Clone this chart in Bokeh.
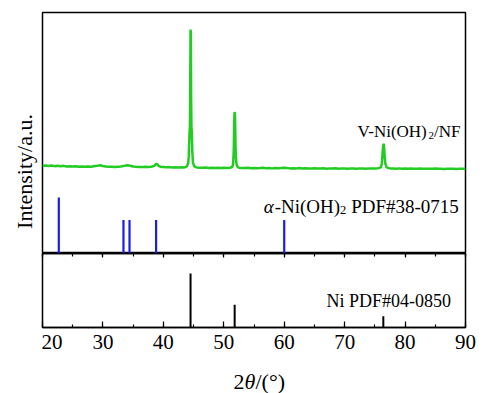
from bokeh.plotting import figure
from bokeh.layouts import column, row
from bokeh.models import Range1d, LinearAxis, Label, SingleIntervalTicker, CustomJSTickFormatter
from bokeh.embed import file_html
from bokeh.resources import INLINE

# ---- data ----
two_theta = [20.0, 20.5, 21.0, 21.5, 22.0, 22.5, 23.0, 23.5, 24.0, 24.5, 25.0, 25.5, 26.0, 26.5,
             27.0, 27.5, 28.0, 28.5, 29.0, 29.5, 30.0, 30.5, 31.0, 31.5, 32.0, 32.5, 33.0, 33.5,
             34.0, 34.5, 35.0, 35.5, 36.0, 36.5, 37.0, 37.5, 38.0, 38.5, 38.8, 39.0, 39.2, 39.5,
             40.0, 40.5, 41.0, 41.5, 42.0, 42.5, 43.0, 43.5, 43.9, 44.1, 44.2, 44.3, 44.35, 44.4,
             44.45, 44.5, 44.55, 44.6, 44.65, 44.7, 44.8, 44.9, 45.1, 45.5, 46.0, 46.5, 47.0, 47.5,
             48.0, 48.5, 49.0, 49.5, 50.0, 50.5, 51.0, 51.4, 51.55, 51.65, 51.7, 51.75, 51.8, 51.85,
             51.9, 51.95, 52.0, 52.1, 52.25, 52.5, 53.0, 53.5, 54.0, 54.5, 55.0, 55.5, 56.0, 56.5,
             57.0, 57.5, 58.0, 58.5, 59.0, 59.5, 60.0, 60.5, 61.0, 61.5, 62.0, 62.5, 63.0, 63.5,
             64.0, 64.5, 65.0, 65.5, 66.0, 66.5, 67.0, 67.5, 68.0, 68.5, 69.0, 69.5, 70.0, 70.5,
             71.0, 71.5, 72.0, 72.5, 73.0, 73.5, 74.0, 74.5, 75.0, 75.5, 76.0, 76.15, 76.25, 76.35,
             76.45, 76.55, 76.65, 76.75, 76.9, 77.2, 77.5, 78.0, 78.5, 79.0, 79.5, 80.0, 80.5, 81.0,
             81.5, 82.0, 82.5, 83.0, 83.5, 84.0, 84.5, 85.0, 85.5, 86.0, 86.5, 87.0, 87.5, 88.0,
             88.5, 89.0, 89.5, 90.0]
intensity_v = [2.6, 2.9, 2.5, 2.8, 2.4, 2.7, 2.3, 2.6, 2.2, 2.4, 2.1, 2.3, 2.0, 2.2,
               1.9, 2.1, 2.0, 2.3, 2.6, 3.0, 2.5, 2.1, 1.9, 2.0, 1.8, 2.0, 2.2, 2.6,
               3.0, 2.7, 2.1, 1.9, 1.8, 1.7, 1.9, 1.8, 2.0, 2.6, 4.0, 3.8, 2.6, 2.0,
               1.8, 1.6, 1.7, 1.5, 1.6, 1.4, 1.6, 1.5, 2.2, 4.5, 9.0, 22.0, 28.0, 31.0,
               62.0, 100.0, 97.0, 50.0, 30.0, 27.0, 12.0, 5.0, 2.2, 1.5, 1.3, 1.2, 1.4, 1.1,
               1.2, 1.0, 1.3, 1.1, 1.2, 1.0, 1.3, 1.8, 4.0, 14.0, 26.0, 38.0, 41.0, 40.0,
               30.0, 16.0, 9.0, 4.0, 2.0, 1.3, 1.1, 1.0, 1.2, 0.9, 1.1, 0.9, 1.0, 1.2,
               0.9, 1.0, 0.8, 1.0, 0.9, 1.1, 1.3, 1.0, 0.8, 0.9, 0.8, 1.0, 0.7, 0.9,
               0.8, 0.7, 0.9, 0.8, 0.7, 0.9, 0.6, 0.8, 0.7, 0.9, 0.6, 0.8, 0.7, 0.6,
               0.8, 0.7, 0.6, 0.8, 0.7, 0.6, 0.8, 0.7, 0.8, 0.9, 1.5, 4.0, 10.0, 16.0,
               18.5, 15.0, 8.0, 4.0, 1.8, 1.0, 0.8, 0.7, 0.6, 0.8, 0.6, 0.7, 0.5, 0.7,
               0.6, 0.5, 0.7, 0.6, 0.5, 0.6, 0.5, 0.7, 0.5, 0.6, 0.4, 0.6, 0.5, 0.6,
               0.4, 0.5, 0.6, 0.5]

alpha_pos = [22.7, 33.4, 34.4, 38.8, 60.0]
alpha_int = [100, 60, 60, 60, 60]

ni_pos = [44.5, 51.8, 76.4]
ni_int = [100, 42, 21]

x_start, x_end, x_step = 20, 90, 10

# ---- style / layout ----
SERIF = "Liberation Serif"
GREEN = "#22cc22"
BLUE = "#1c1ced"
LEFT_W = 41            # narrow figure holding the y label
W = 443                # width of stacked panels
MB_L, MB_R = 1, 19
TOP_FRAME, BOT_FRAME = 241, 74
TOP_H = TOP_FRAME + 12
BOT_AX = 30
BOT_H = BOT_FRAME + BOT_AX
LAB_H = 393 - TOP_H - BOT_H

green_off, green_scale = 84, 1.4
alpha_scale = 0.56
ni_scale = 0.54

xr = Range1d(x_start, x_end)


def bare(p):
    p.grid.visible = False


def lab(p, x, y, text, size, style="normal", xo=0, yo=0, align="left", angle=0,
        baseline="alphabetic"):
    p.add_layout(Label(x=x, y=y, text=text, text_font=SERIF, text_font_size=f"{size}px",
                       text_font_style=style, x_offset=xo, y_offset=yo, text_align=align,
                       text_baseline=baseline, angle=angle, text_color="black"))


# ---- top panel: sample pattern + alpha-Ni(OH)2 reference ----
p1 = figure(width=W, height=TOP_H, x_range=xr, y_range=Range1d(0, TOP_FRAME),
            x_axis_location=None, y_axis_location=None,
            output_backend="svg", toolbar_location=None,
            min_border_left=MB_L, min_border_right=MB_R, min_border_top=12, min_border_bottom=0)
bare(p1)
p1.outline_line_color = "black"
p1.outline_line_width = 1.5

p1.line(two_theta, [green_off + green_scale * v for v in intensity_v],
        line_color=GREEN, line_width=2.5)
p1.segment(x0=alpha_pos, y0=[0] * len(alpha_pos), x1=alpha_pos,
           y1=[alpha_scale * v for v in alpha_int], line_color=BLUE, line_width=2.2)

vx, vy = 72.13, 122
lab(p1, vx, vy, "V-Ni(OH)", 17)
lab(p1, vx, vy, "2", 11, xo=71, yo=-4)
lab(p1, vx, vy, "/NF", 17, xo=76.5)

ax_, ay = 56.6, 47.3
lab(p1, ax_, ay, "α", 19, style="italic")
lab(p1, ax_, ay, "-Ni(OH)", 19, xo=11)
lab(p1, ax_, ay, "2", 12.5, xo=76.4, yo=-4)
lab(p1, ax_, ay, "PDF#38-0715", 19, xo=87.5)

# ---- bottom panel: Ni reference ----
p2 = figure(width=W, height=BOT_H, x_range=xr, y_range=Range1d(0, BOT_FRAME),
            x_axis_location="below", y_axis_location=None,
            output_backend="svg", toolbar_location=None,
            min_border_left=MB_L, min_border_right=MB_R, min_border_top=0,
            min_border_bottom=BOT_AX)
bare(p2)
p2.outline_line_color = "black"
p2.outline_line_width = 1.5

xa = p2.xaxis[0]
xa.ticker = SingleIntervalTicker(interval=x_step, num_minor_ticks=2)
xa.major_tick_in = 6
xa.major_tick_out = 0
xa.minor_tick_in = 3
xa.minor_tick_out = 0
xa.axis_line_width = 1.5
xa.major_tick_line_width = 1.2
xa.minor_tick_line_width = 1.2
xa.major_label_text_font = SERIF
xa.major_label_text_font_size = "21px"
xa.major_label_text_color = "black"
xa.major_label_standoff = 7

top_ax = LinearAxis(ticker=SingleIntervalTicker(interval=x_step, num_minor_ticks=2),
                    formatter=CustomJSTickFormatter(code="return ''"),
                    major_label_text_font_size="1px", major_label_standoff=0,
                    major_tick_in=4, major_tick_out=0, minor_tick_in=3, minor_tick_out=0,
                    axis_line_width=1.5, major_tick_line_width=1.2, minor_tick_line_width=1.2)
p2.add_layout(top_ax, "above")

p2.segment(x0=ni_pos, y0=[0] * len(ni_pos), x1=ni_pos,
           y1=[ni_scale * v for v in ni_int], line_color="black", line_width=2)

lab(p2, 67.0, 27, "Ni PDF#04-0850", 18)

# ---- x axis title strip (image-pixel coordinates) ----
p3 = figure(width=W, height=LAB_H, x_range=Range1d(42, 465), y_range=Range1d(393, 393 - LAB_H),
            x_axis_location=None, y_axis_location=None,
            output_backend="svg", toolbar_location=None,
            min_border_left=MB_L, min_border_right=MB_R, min_border_top=0, min_border_bottom=0)
bare(p3)
p3.outline_line_color = None
lab(p3, 233, 381, "2", 22)
lab(p3, 233, 381, "θ", 22, style="italic", xo=11)
lab(p3, 233, 381, "/(°)", 22, xo=22)

# ---- y axis title strip (image-pixel coordinates) ----
pL = figure(width=LEFT_W, height=393, x_range=Range1d(0, LEFT_W), y_range=Range1d(393, 0),
            x_axis_location=None, y_axis_location=None,
            output_backend="svg", toolbar_location=None,
            min_border_left=0, min_border_right=0, min_border_top=0, min_border_bottom=0)
bare(pL)
pL.outline_line_color = None
lab(pL, 24, 171, "Intensity/a.u.", 22, align="center", angle=1.5708, baseline="middle")

layout = row(pL, column(p1, p2, p3, spacing=0), spacing=0)
open("out.html", "w").write(file_html(layout, INLINE))
